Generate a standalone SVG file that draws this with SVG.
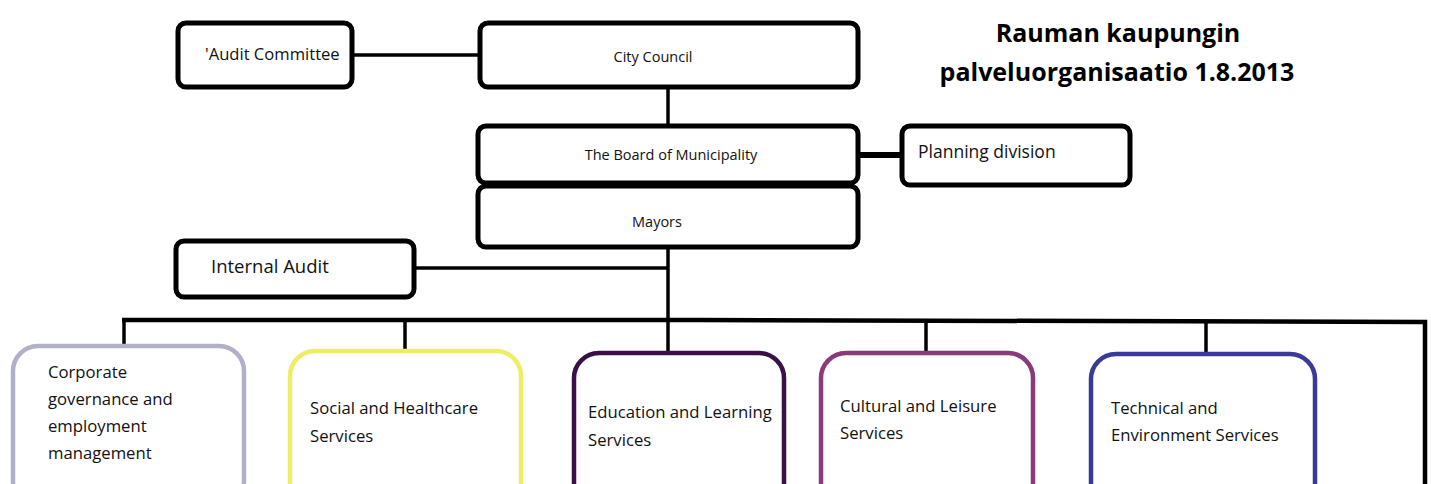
<svg xmlns="http://www.w3.org/2000/svg" width="1431" height="484" viewBox="0 0 1431 484">
<style>
.box{fill:#fff;stroke:#000;stroke-width:5}
.svc{fill:#fff;stroke-width:4.5}
.ln{stroke:#000;stroke-width:3.5;fill:none}
.t{font-family:"Open Sans","Liberation Sans",sans-serif;fill:#111}
.s13{font-size:14.5px}
.s16{font-size:17.5px}
.s17{font-size:16.7px}
.title{font-family:"Open Sans","Liberation Sans",sans-serif;font-weight:bold;font-size:25px;fill:#000}
</style>
<rect width="1431" height="484" fill="#fff"/>
<g id="connectors">
<line class="ln" x1="352" y1="55" x2="480" y2="55"/>
<line class="ln" x1="668" y1="87" x2="668" y2="127"/>
<line class="ln" x1="858" y1="155" x2="902" y2="155" style="stroke-width:6"/>
<line class="ln" x1="668" y1="247" x2="668" y2="321"/>
<line class="ln" x1="414" y1="268" x2="668" y2="268"/>
<polyline class="ln" points="122,320 700,320 1425,322 1425,484" style="stroke-width:4.5"/>
<line class="ln" x1="124" y1="320" x2="124" y2="346"/>
<line class="ln" x1="405" y1="320" x2="405" y2="351"/>
<line class="ln" x1="668" y1="320" x2="668" y2="353"/>
<line class="ln" x1="926" y1="321" x2="926" y2="353"/>
<line class="ln" x1="1206" y1="322" x2="1206" y2="354"/>
</g>
<g id="title">
<text class="title" x="1118" y="42" text-anchor="middle">Rauman kaupungin</text>
<text class="title" x="1117" y="81" text-anchor="middle">palveluorganisaatio 1.8.2013</text>
</g>
<g id="audit-committee">
<rect class="box" x="178" y="23" width="174" height="64" rx="8"/>
<text class="t s16" x="205" y="60" style="font-size:16.6px">'Audit Committee</text>
</g>
<g id="city-council">
<rect class="box" x="480" y="23" width="378" height="64" rx="8"/>
<text class="t s13" x="653" y="62" text-anchor="middle">City Council</text>
</g>
<g id="board">
<rect class="box" x="478" y="126" width="380" height="57" rx="8"/>
<text class="t s13" x="671" y="160" text-anchor="middle">The Board of Municipality</text>
</g>
<g id="planning">
<rect class="box" x="902" y="126" width="228" height="59" rx="8"/>
<text class="t s16" x="918" y="158">Planning division</text>
</g>
<g id="mayors">
<rect class="box" x="478" y="186" width="380" height="61" rx="8"/>
<text class="t s13" x="657" y="227" text-anchor="middle">Mayors</text>
</g>
<g id="internal-audit">
<rect class="box" x="176" y="241" width="238" height="56" rx="8"/>
<text class="t s16" x="211" y="273" style="font-size:18.5px">Internal Audit</text>
</g>
<g id="corporate">
<rect class="svc" x="13" y="346" width="231" height="160" rx="25" stroke="#b0b0c8"/>
<text class="t s17" x="48" y="378">Corporate</text>
<text class="t s17" x="48" y="405">governance and</text>
<text class="t s17" x="48" y="432">employment</text>
<text class="t s17" x="48" y="459">management</text>
</g>
<g id="social">
<rect class="svc" x="290" y="351" width="231" height="160" rx="25" stroke="#eeee66"/>
<text class="t s17" x="310" y="414">Social and Healthcare</text>
<text class="t s17" x="310" y="442">Services</text>
</g>
<g id="education">
<rect class="svc" x="574" y="353" width="210" height="160" rx="25" stroke="#3a1048"/>
<text class="t s17" x="588" y="418">Education and Learning</text>
<text class="t s17" x="588" y="446">Services</text>
</g>
<g id="cultural">
<rect class="svc" x="821" y="353" width="212" height="160" rx="25" stroke="#8a3a78"/>
<text class="t s17" x="840" y="412">Cultural and Leisure</text>
<text class="t s17" x="840" y="439">Services</text>
</g>
<g id="technical">
<rect class="svc" x="1091" y="354" width="224" height="160" rx="25" stroke="#3a3a9a"/>
<text class="t s17" x="1111" y="414">Technical and</text>
<text class="t s17" x="1111" y="441">Environment Services</text>
</g>
</svg>
